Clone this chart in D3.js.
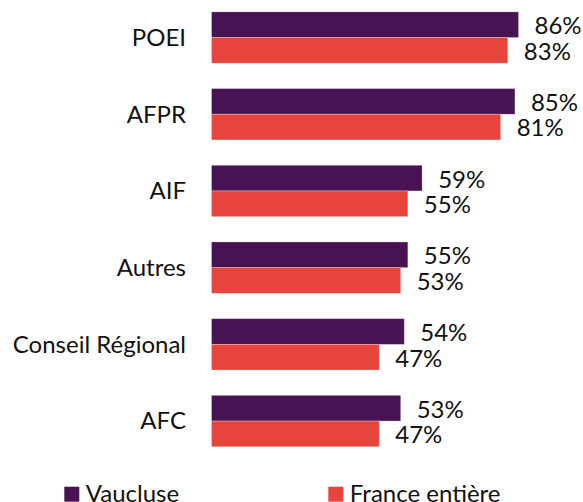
<!DOCTYPE html>
<html>
<head>
<meta charset="utf-8">
<script src="https://cdn.jsdelivr.net/npm/d3@7"></script>
<style>
  body { margin: 0; background: #fff; }
  text { font-family: Lato, "Open Sans", sans-serif; fill: #111; }
</style>
</head>
<body>
<script>
(function(){
  var canvasWidth = 583;
  var canvasHeight = 502;

  var categories = ["POEI", "AFPR", "AIF", "Autres", "Conseil Régional", "AFC"];
  var seriesNames = ["Vaucluse", "France entière"];
  var vaucluse = [86, 85, 59, 55, 54, 53];
  var france = [83, 81, 55, 53, 47, 47];
  var colors = ["#481352", "#e8443e"];

  var rows = categories.map((c, i) => ({ cat: c, values: [vaucluse[i], france[i]] }));

  var svg = d3.select("body").append("svg")
    .attr("width", canvasWidth)
    .attr("height", canvasHeight);

  var x = d3.scaleLinear().domain([0, 100]).range([211.5, 568.5]);

  var y = d3.scaleBand().domain(categories)
    .range([11.9 - 12.7, 11.9 + 6 * 76.7 - 12.7])
    .paddingInner(0.33).paddingOuter(0.165);

  var ySub = d3.scaleBand().domain([0, 1]).range([0, y.bandwidth()]);

  var groups = svg.selectAll("g.cat")
    .data(rows)
    .enter().append("g")
    .attr("class", "cat")
    .attr("transform", d => "translate(0," + y(d.cat) + ")");

  groups.selectAll("rect")
    .data(d => d.values)
    .enter().append("rect")
    .attr("x", x(0))
    .attr("y", (v, i) => ySub(i))
    .attr("width", v => x(v) - x(0))
    .attr("height", ySub.bandwidth())
    .attr("fill", (v, i) => colors[i])
    .attr("stroke", "#ffffff")
    .attr("stroke-opacity", 0.35)
    .attr("stroke-width", 0.8);

  groups.selectAll("text.val")
    .data(d => d.values)
    .enter().append("text")
    .attr("class", "val")
    .attr("x", v => x(v) + 16)
    .attr("y", (v, i) => ySub(i) + ySub.bandwidth() / 2 + 1)
    .attr("dy", "0.35em")
    .style("font-size", "24px")
    .text(v => v + "%");

  groups.append("text")
    .attr("x", 186)
    .attr("y", y.bandwidth() / 2)
    .attr("dy", "0.35em")
    .attr("text-anchor", "end")
    .style("font-size", "24px")
    .text(d => d.cat);

  // legend, cut off by the bottom edge like the original
  var legendX = [64.3, 328.3];
  var legend = svg.selectAll("g.legend")
    .data(seriesNames)
    .enter().append("g")
    .attr("class", "legend")
    .attr("transform", (d, i) => "translate(" + legendX[i] + ",486.7)");

  legend.append("rect")
    .attr("width", 15)
    .attr("height", 15)
    .attr("fill", (d, i) => colors[i]);

  legend.append("text")
    .attr("x", 21.5)
    .attr("y", 15)
    .style("font-size", "24px")
    .text(d => d);
})();
</script>
</body>
</html>
